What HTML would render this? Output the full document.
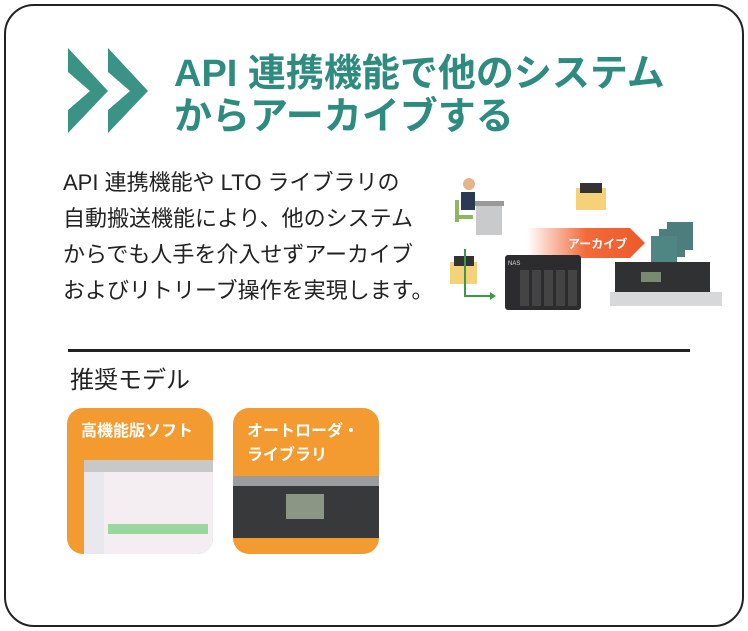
<!DOCTYPE html>
<html><head><meta charset="utf-8"><style>
body{margin:0;width:748px;height:631px;background:#fff;position:relative;overflow:hidden;font-family:"Liberation Sans","Noto Sans CJK JP",sans-serif}
.frame{position:absolute;left:4px;top:4px;width:736px;height:619px;border:2px solid #222;border-radius:30px}
.t{position:absolute;white-space:nowrap}
.title{left:174px;font-size:38px;font-weight:bold;color:#2e8b7f;line-height:43px}
.body{left:63px;font-size:22px;color:#222;line-height:36px;top:165px}
.card{position:absolute;top:408px;width:146px;height:146px;background:#f39a30;border-radius:16px;overflow:hidden}
.card .lab{position:absolute;left:14px;top:12px;color:#fff;font-size:16px;font-weight:bold;line-height:24px}
</style></head><body>
<div class="frame"></div>
<svg width="748" height="631" style="position:absolute;left:0;top:0">
<polygon points="68,48 108,91 68,133 68,110 90,91 68,72" fill="#3a9384"/>
<polygon points="108,48 148,91 108,133 108,110 130,91 108,72" fill="#3a9384"/>
<rect x="68" y="349" width="622" height="3" fill="#222"/>
<defs><linearGradient id="g" x1="0" x2="1"><stop offset="0" stop-color="#f26a3a" stop-opacity="0"/><stop offset="0.5" stop-color="#f26a3a"/><stop offset="1" stop-color="#ee5a2a"/></linearGradient></defs>
<polygon points="527,228 630,228 645,243 630,258 527,258" fill="url(#g)"/>
<text x="568" y="248" font-size="12" fill="#fff" font-weight="bold" font-family="Liberation Sans,Noto Sans CJK JP,sans-serif">アーカイブ</text>
<rect x="476" y="205" width="26" height="30" fill="#c8cacc"/>
<rect x="474" y="201" width="30" height="5" fill="#999"/>
<circle cx="469" cy="184" r="6" fill="#e6b48a"/>
<path d="M461 192 h14 v18 h-14z" fill="#2a3a55"/>
<rect x="455" y="200" width="4" height="22" fill="#8fb560"/>
<rect x="455" y="215" width="18" height="4" fill="#8fb560"/>
<rect x="576" y="188" width="30" height="22" fill="#f5d27a"/><rect x="580" y="183" width="22" height="10" fill="#333"/>
<rect x="450" y="262" width="27" height="22" fill="#f5d27a"/><rect x="454" y="256" width="20" height="10" fill="#333"/>
<path d="M465 249 V296 H490" stroke="#3a9a4a" stroke-width="2" fill="none"/><polygon points="490,292 496,296 490,300" fill="#3a9a4a"/>
<rect x="505" y="255" width="76" height="55" rx="3" fill="#2c2c2e"/>
<text x="508" y="265" font-size="6" fill="#ddd">NAS</text>
<g fill="#444"><rect x="520" y="270" width="9" height="36"/><rect x="532" y="270" width="9" height="36"/><rect x="544" y="270" width="9" height="36"/><rect x="556" y="270" width="9" height="36"/><rect x="568" y="270" width="9" height="36"/></g>
<rect x="667" y="222" width="26" height="28" fill="#4d7e7c"/><rect x="659" y="229" width="26" height="28" fill="#4d7e7c"/><rect x="651" y="236" width="26" height="28" fill="#4f8583"/>
<rect x="615" y="262" width="95" height="30" fill="#2f3133"/>
<rect x="641" y="272" width="20" height="10" fill="#7a8a70"/>
<rect x="610" y="292" width="112" height="14" fill="#d6d8da"/>
</svg>
<div class="t title" style="top:53px">API 連携機能で他のシステム</div>
<div class="t title" style="top:96px">からアーカイブする</div>
<div class="t body">API 連携機能や LTO ライブラリの<br>自動搬送機能により、他のシステム<br>からでも人手を介入せずアーカイブ<br>およびリトリーブ操作を実現します。</div>
<div class="t" style="left:70px;top:366px;font-size:24px;color:#222;line-height:30px">推奨モデル</div>
<div class="card" style="left:67px"><div class="lab">高機能版ソフト</div>
<div style="position:absolute;left:17px;top:52px;width:129px;height:94px;background:#f4eef2"><div style="height:12px;background:#c8c8c8"></div><div style="position:absolute;left:0;top:12px;width:20px;height:82px;background:#e8e8ee"></div><div style="position:absolute;left:24px;top:64px;width:100px;height:10px;background:#9ad7a0"></div></div></div>
<div class="card" style="left:233px"><div class="lab">オートローダ・<br>ライブラリ</div>
<div style="position:absolute;left:0;top:68px;width:146px;height:62px;background:#38393b"><div style="position:absolute;left:0;top:0;width:146px;height:10px;background:#9a9c9e"></div><div style="position:absolute;left:53px;top:18px;width:38px;height:25px;background:#8c9684"></div></div></div>
</body></html>
